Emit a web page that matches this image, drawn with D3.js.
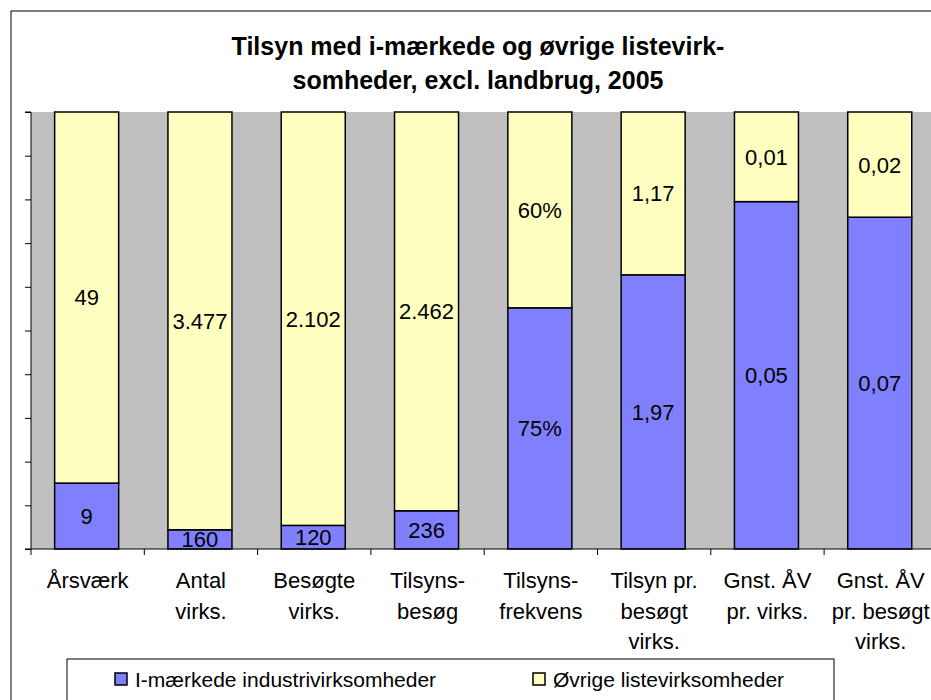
<!DOCTYPE html>
<html>
<head>
<meta charset="utf-8">
<script src="https://cdn.jsdelivr.net/npm/d3@7"></script>
<style>
  body { margin: 0; background: white; }
  text { font-family: "Liberation Sans", Arial, sans-serif; }
</style>
</head>
<body>
<div id="chart"></div>
<script>
const categories = [
  ["Årsværk"],
  ["Antal", "virks."],
  ["Besøgte", "virks."],
  ["Tilsyns-", "besøg"],
  ["Tilsyns-", "frekvens"],
  ["Tilsyn pr.", "besøgt", "virks."],
  ["Gnst. ÅV", "pr. virks."],
  ["Gnst. ÅV", "pr. besøgt", "virks."]
];
const seriesNames = ["I-mærkede industrivirksomheder", "Øvrige listevirksomheder"];
// værdier (afrundede tal vises som etiketter)
const imaerkede = [8.7, 160, 120, 236, 0.75, 1.97, 0.05, 0.07];
const oevrige = [49, 3477, 2102, 2462, 0.609, 1.17, 0.0129, 0.0222];
const imaerkedeLabels = ["9", "160", "120", "236", "75%", "1,97", "0,05", "0,07"];
const oevrigeLabels = ["49", "3.477", "2.102", "2.462", "60%", "1,17", "0,01", "0,02"];
const yTicks = [0, 0.1, 0.2, 0.3, 0.4, 0.5, 0.6, 0.7, 0.8, 0.9, 1];
const colors = ["#8080FF", "#FFFFC0"];

const width = 931;
const height = 700;
const margin = { top: 112, left: 31, bottom: 549 };
const step = 113.3;

const svg = d3.select("#chart")
  .append("svg")
  .attr("width", width)
  .attr("height", height);

// ramme om diagrammet
svg.append("rect")
  .attr("x", 11).attr("y", 11)
  .attr("width", 960).attr("height", 720)
  .attr("fill", "white")
  .attr("stroke", "black")
  .attr("stroke-width", 1);

svg.append("text")
  .attr("x", 478)
  .attr("y", 55)
  .attr("text-anchor", "middle")
  .attr("font-size", "25px")
  .attr("font-weight", "bold")
  .selectAll("tspan")
  .data(["Tilsyn med i-mærkede og øvrige listevirk-", "somheder, excl. landbrug, 2005"])
  .join("tspan")
    .attr("x", 478)
    .attr("dy", (d, i) => i === 0 ? 0 : 34)
    .text(d => d);

const x = d3.scaleBand()
  .domain(d3.range(categories.length))
  .range([margin.left, margin.left + step * categories.length])
  .padding(0);

const y = d3.scaleLinear()
  .domain([0, 1])
  .range([margin.bottom, margin.top]);

// plotområde
svg.append("rect")
  .attr("x", margin.left)
  .attr("y", margin.top)
  .attr("width", x.range()[1] - margin.left)
  .attr("height", margin.bottom - margin.top)
  .attr("fill", "#C0C0C0");

const rows = categories.map((c, i) => {
  const total = imaerkede[i] + oevrige[i];
  return { i, a: imaerkede[i] / total, b: oevrige[i] / total };
});

const stack = d3.stack().keys(["a", "b"]);
const layers = stack(rows);
const labels = [imaerkedeLabels, oevrigeLabels];

const barW = x.bandwidth() * 0.565;
const barX = i => x(i) + (x.bandwidth() - barW) / 2 - 1;

layers.forEach((layer, k) => {
  svg.append("g")
    .selectAll("rect")
    .data(layer)
    .join("rect")
      .attr("x", d => barX(d.data.i))
      .attr("y", d => y(d[1]))
      .attr("width", barW)
      .attr("height", d => y(d[0]) - y(d[1]))
      .attr("fill", colors[k])
      .attr("stroke", "black")
      .attr("stroke-width", 1.5);
});

layers.forEach((layer, k) => {
  svg.append("g")
    .selectAll("text")
    .data(layer)
    .join("text")
      .attr("x", d => barX(d.data.i) + barW / 2)
      .attr("y", d => (y(d[0]) + y(d[1])) / 2)
      .attr("dy", "0.36em")
      .attr("text-anchor", "middle")
      .attr("font-size", "22px")
      .text(d => labels[k][d.data.i]);
});

// y-akse uden tal
svg.append("g")
  .attr("transform", `translate(${margin.left},0)`)
  .call(d3.axisLeft(y).tickValues(yTicks).tickSize(6).tickFormat(""))
  .call(g => g.select(".domain").attr("d", `M-6,${margin.top}H0V${margin.bottom}`))
  .call(g => g.selectAll("line").attr("stroke", "black"));

// x-akse med tick ved kategorigrænser
const edges = d3.range(categories.length + 1).map(i => margin.left + i * step);
const xAxis = svg.append("g");
xAxis.append("line")
  .attr("x1", margin.left - 6).attr("x2", width)
  .attr("y1", margin.bottom).attr("y2", margin.bottom)
  .attr("stroke", "black");
xAxis.selectAll(".tick")
  .data(edges)
  .join("line")
    .attr("x1", d => d).attr("x2", d => d)
    .attr("y1", margin.bottom).attr("y2", margin.bottom + 6)
    .attr("stroke", "black");

svg.append("g")
  .selectAll("text")
  .data(categories)
  .join("text")
    .attr("text-anchor", "middle")
    .attr("font-size", "22px")
    .attr("y", 588)
    .each(function (lines, i) {
      d3.select(this).selectAll("tspan")
        .data(lines)
        .join("tspan")
          .attr("x", x(i) + x.bandwidth() / 2)
          .attr("dy", (d, j) => j === 0 ? 0 : 30.5)
          .text(d => d);
    });

// forklaring
const legend = svg.append("g");
legend.append("rect")
  .attr("x", 67).attr("y", 659)
  .attr("width", 767).attr("height", 60)
  .attr("fill", "white")
  .attr("stroke", "black");

const legendX = [115, 533];
seriesNames.forEach((name, k) => {
  legend.append("rect")
    .attr("x", legendX[k]).attr("y", 673)
    .attr("width", 12).attr("height", 12)
    .attr("fill", colors[k])
    .attr("stroke", "black")
    .attr("stroke-width", 1.5);
  legend.append("text")
    .attr("x", legendX[k] + 20)
    .attr("y", 687)
    .attr("font-size", "21px")
    .text(name);
});
</script>
</body>
</html>
